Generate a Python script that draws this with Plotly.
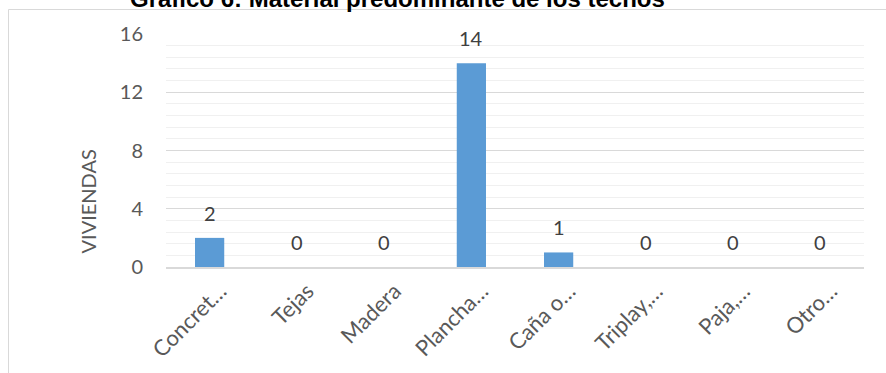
import plotly.graph_objects as go

# Roof material categories (labels as shortened on the axis) and dwelling counts
categories = ["Concret…", "Tejas", "Madera", "Plancha…", "Caña o…", "Triplay,…", "Paja,…", "Otro…"]
viviendas = [2, 0, 0, 14, 1, 0, 0, 0]
y_ticks = [0, 4, 8, 12, 16]

title_text = "Gráfico 6: Material predominante de los techos"
y_title = "VIVIENDAS"

W, H = 886, 373
L, R, T, B = 166, 22, 34, 106
PW, PH = W - L - R, H - T - B


def px_x(p):
    return (p - L) / PW


def px_y(p):
    return (T + PH - p) / PH


font_family = "Lato, 'Open Sans', sans-serif"
y_tick_font = dict(family=font_family, size=20, color="#595959")
x_tick_font = dict(family=font_family, size=22, color="#595959")

positions = list(range(len(categories)))
# rotated labels sit slightly to the right of each slot centre
label_offset = 0.12

fig = go.Figure()
fig.add_trace(
    go.Bar(
        x=positions,
        y=viviendas,
        marker=dict(color="#5B9BD5", line=dict(width=0)),
        hovertext=categories,
        hoverinfo="text+y",
    )
)
# empty trace that carries the label axis
fig.add_trace(go.Scatter(x=[None], y=[None], xaxis="x2", yaxis="y", showlegend=False, hoverinfo="skip"))

annotations = []
# value labels above each bar
for pos, val in zip(positions, viviendas):
    annotations.append(
        dict(
            x=pos, y=val, xref="x", yref="y",
            text=str(val), showarrow=False,
            yanchor="middle", yshift=25,
            font=dict(family=font_family, size=20, color="#404040"),
        )
    )

# axis title
annotations.append(
    dict(
        x=px_x(87.5), y=px_y(202), xref="paper", yref="paper",
        text=y_title, textangle=-90, showarrow=False,
        xanchor="center", yanchor="middle",
        font=dict(family=font_family, size=20, color="#595959"),
    )
)

# chart title, partly above the top edge
annotations.append(
    dict(
        x=px_x(397), y=px_y(-2), xref="paper", yref="paper",
        text="<b>" + title_text + "</b>", showarrow=False,
        xanchor="center", yanchor="middle",
        font=dict(family="'Liberation Sans', Arial, sans-serif", size=24, color="#000000"),
    )
)

x_range = [-0.5, len(categories) - 0.5]

fig.update_layout(
    width=W,
    height=H,
    margin=dict(l=L, r=R, t=T, b=B, pad=0),
    paper_bgcolor="white",
    plot_bgcolor="white",
    showlegend=False,
    bargap=0.665,
    annotations=annotations,
    shapes=[
        dict(
            type="rect", xref="paper", yref="paper",
            x0=px_x(8.5), x1=px_x(895), y0=px_y(390), y1=px_y(9.5),
            line=dict(color="#d9d9d9", width=1), fillcolor="rgba(0,0,0,0)",
            layer="below",
        )
    ],
    xaxis=dict(
        range=x_range,
        showticklabels=False,
        showgrid=False,
        showline=True,
        linecolor="#d9d9d9",
        linewidth=1.5,
        ticks="",
        automargin=False,
        fixedrange=True,
    ),
    xaxis2=dict(
        overlaying="x",
        anchor="y",
        side="bottom",
        range=x_range,
        tickvals=[p + label_offset for p in positions],
        ticktext=categories,
        tickangle=-45,
        tickfont=x_tick_font,
        showgrid=False,
        showline=False,
        zeroline=False,
        ticks="",
        ticklabelstandoff=6,
        automargin=False,
        fixedrange=True,
    ),
    yaxis=dict(
        range=[0, 16],
        tickvals=y_ticks,
        tickfont=y_tick_font,
        showgrid=True,
        gridcolor="#d9d9d9",
        gridwidth=1.2,
        zeroline=False,
        ticks="",
        ticklabelstandoff=22,
        automargin=False,
        minor=dict(dtick=0.8, tick0=0, showgrid=True, gridcolor="#f0f0f0", gridwidth=1),
        fixedrange=True,
    ),
)

fig.write_html("out.html")
